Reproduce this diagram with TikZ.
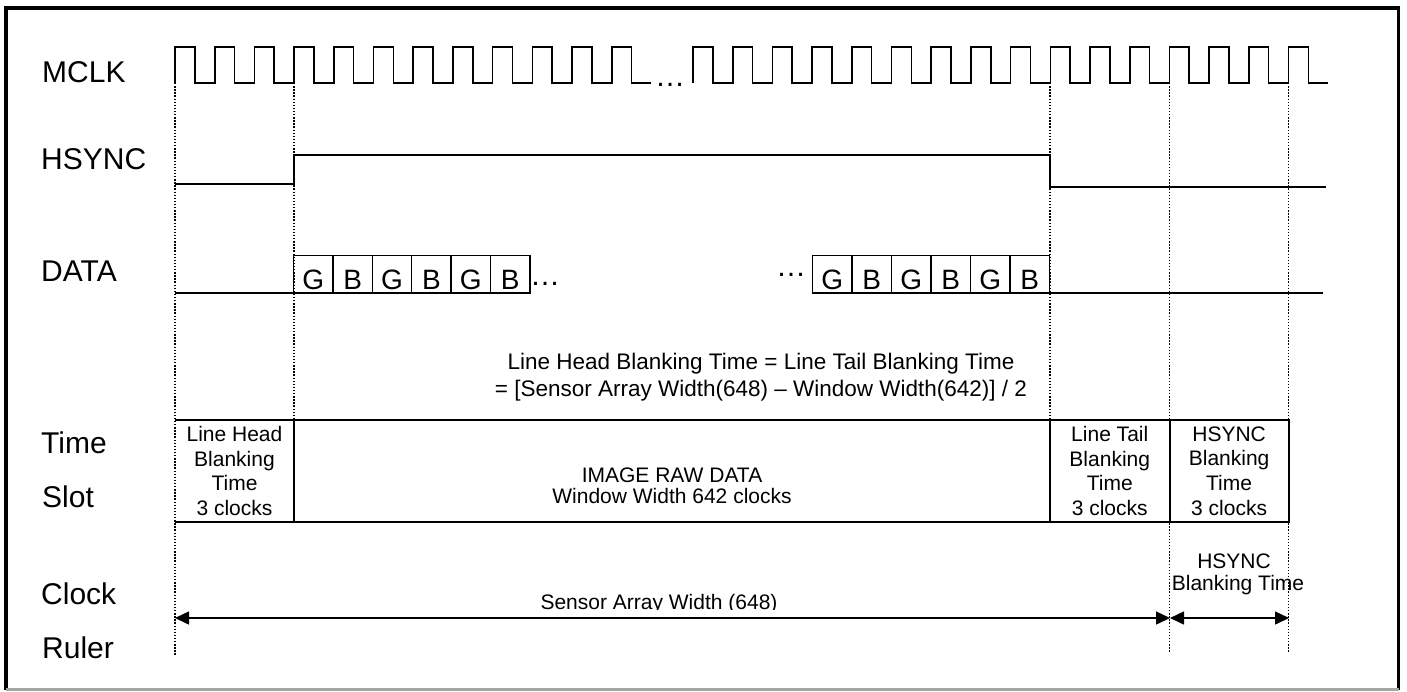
\documentclass[tikz,border=0pt]{standalone}
\usepackage{fontspec}
\setmainfont{Liberation Sans}
\usetikzlibrary{arrows.meta}
\begin{document}
\begin{tikzpicture}[x=1pt,y=-1pt,
  lbl/.style={font=\fontsize{30}{36}\selectfont, anchor=base west, inner sep=0pt},
  wave/.style={line width=1.6pt, line join=miter},
  guide/.style={line width=1.4pt, dash pattern=on 1.4pt off 1.7pt},
  slot/.style={inner sep=0pt, align=center, minimum height=102pt, font=\fontsize{21}{24.8}\selectfont},
  frame/.style={line width=1.9pt},
  cell/.style={draw, line width=1.3pt, inner sep=0pt, minimum width=39.6pt, minimum height=37.7pt, text height=31pt, text depth=0pt, font=\fontsize{28}{30}\selectfont},
  small/.style={font=\fontsize{21}{25}\selectfont, anchor=base, inner sep=0pt},
  eqtext/.style={font=\fontsize{22.5}{27}\selectfont, anchor=base, inner sep=0pt},
  dots/.style={font=\fontsize{30}{36}\selectfont, anchor=base west, inner sep=0pt},
  ruler/.style={line width=1.5pt, {Triangle[length=14pt,width=13pt]}-{Triangle[length=14pt,width=13pt]}}
]
\useasboundingbox (0,0) rectangle (1407,691);
% outer border
\draw[line width=3.5pt] (6,689.5) -- (6,8) -- (1398.5,8) -- (1398.5,689.5);
\draw[line width=3pt, gray!70] (6,689.5) -- (1398.5,689.5);

% row labels
\node[lbl] (lmclk) at (42,82.7) {MCLK};
\node[lbl] (lhsync) at (41,169) {HSYNC};
\node[lbl] (ldata) at (41,281) {DATA};
\node[lbl] (ltime) at (41,453) {Time};
\node[lbl] (lslot) at (42,507) {Slot};
\node[lbl] (lclock) at (41,604) {Clock};
\node[lbl] (lruler) at (42,658) {Ruler};

% guide lines
\draw[guide] (175,83) -- (175,656);
\draw[guide] (294,83) -- (294,420);
\draw[guide] (1050,83) -- (1050,420);
\draw[guide] (1169.5,83) -- (1169.5,652);
\draw[guide] (1288.7,83) -- (1288.7,653);

% MCLK
\draw[wave] (175,83) foreach \k in {0,...,11}{ -- ++(0,-36) -- ++(19.85,0) -- ++(0,36) -- ++(19.85,0)};
\node[dots] (mdots) at (655,86) {…};
\draw[wave] (693,83) foreach \k in {0,...,15}{ -- ++(0,-36) -- ++(19.85,0) -- ++(0,36) -- ++(19.85,0)};

% HSYNC
\draw[wave] (175,184) -- (294,184) -- (294,155) -- (1050,155) -- (1050,187) -- (1326,187);

% DATA
\draw[wave] (175,293) -- (294,293);
\draw[wave] (1050,293) -- (1323,293);
\foreach \t [count=\i from 0] in {G,B,G,B,G,B}{
  \node[cell] (a\i) at ({293.5+39.4*(\i+0.5)},274) {\t};
}
\node[dots] (ddots1) at (530,285) {…};
\node[dots] (ddots2) at (776,276) {…};
\foreach \t [count=\i from 0] in {G,B,G,B,G,B}{
  \node[cell] (b\i) at ({812.5+39.5*(\i+0.5)},274) {\t};
}

% equation text
\node[eqtext] (eq1) at (761,369) {Line Head Blanking Time = Line Tail Blanking Time};
\node[eqtext] (eq2) at (761,396) {= [Sensor Array Width(648) – Window Width(642)] / 2};

% time slot
\node[slot, minimum width=119pt] (lh) at (234.5,471) {Line Head\\Blanking\\Time\\3 clocks};
\node[slot, minimum width=756pt, font=\fontsize{21}{21}\selectfont] (img) at (672,471) {\rule{0pt}{44pt}IMAGE RAW DATA\\Window Width 642 clocks};
\node[slot, minimum width=119.5pt] (lt) at (1109.75,471) {Line Tail\\Blanking\\Time\\3 clocks};
\node[slot, minimum width=119.2pt] (hb) at (1229.1,471) {HSYNC\\Blanking\\Time\\3 clocks};
\draw[frame] (lh.north west) -- (hb.north east) -- (hb.south east) -- (lh.south west);
\draw[frame] (lh.north east) -- (lh.south east);
\draw[frame] (img.north east) -- (img.south east);
\draw[frame] (lt.north east) -- (lt.south east);

% clock ruler
\coordinate (r0) at (175,618);
\coordinate (r1) at (1170,618);
\coordinate (r2) at (1289,618);
\draw[ruler] (r0) -- (r1);
\draw[ruler] (r1) -- (r2);
\begin{scope}
  \clip (400,570) rectangle (950,609.5);
  \node[small] (saw) at (659,609) {Sensor Array Width (648)};
\end{scope}
\node[small] (hbt1) at (1234,568) {HSYNC};
\node[small] (hbt2) at (1238,590) {Blanking Time};
\end{tikzpicture}
\end{document}
